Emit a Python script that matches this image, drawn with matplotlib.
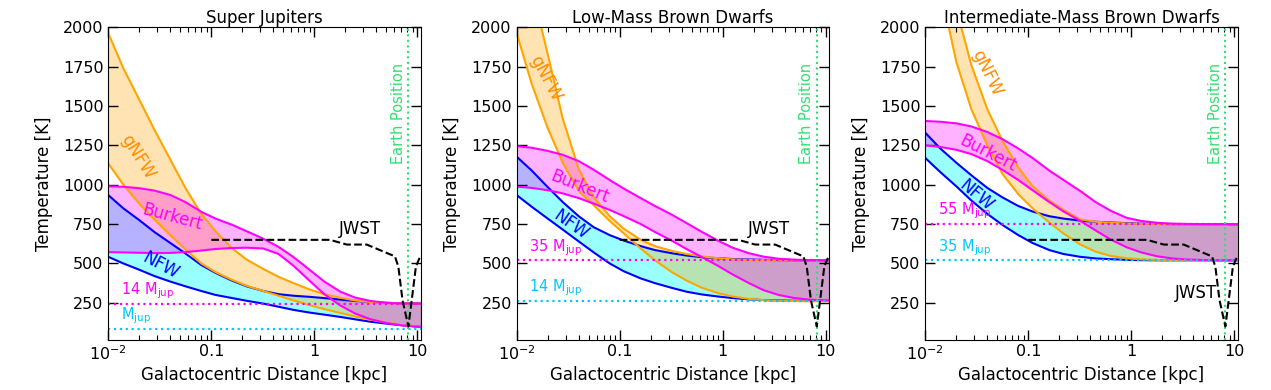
import numpy as np
import matplotlib
matplotlib.use("Agg")
import matplotlib.pyplot as plt

# ---------------- data ----------------
r_kpc = [0.01, 0.014, 0.02, 0.028, 0.04, 0.056, 0.08, 0.11, 0.16, 0.22, 0.32,
         0.45, 0.63, 0.9, 1.25, 1.8, 2.5, 3.5, 5, 7, 10.8]

# Super Jupiters
sj_nfw_hi = [934, 850, 775, 700, 630, 564, 490, 440, 390, 355, 325, 305, 295, 288, 280, 270, 262, 256, 250, 247, 245]
sj_nfw_lo = [542, 500, 460, 420, 385, 355, 325, 300, 280, 263, 245, 225, 205, 188, 175, 160, 145, 130, 118, 108, 98]
sj_gnfw_hi = [1962, 1740, 1540, 1350, 1160, 980, 815, 705, 595, 525, 465, 415, 375, 335, 305, 282, 265, 255, 248, 246, 245]
sj_gnfw_lo = [1135, 1000, 880, 780, 680, 590, 500, 445, 395, 358, 325, 295, 265, 235, 210, 185, 163, 143, 125, 110, 98]
sj_bur_hi = [990, 987, 978, 963, 935, 890, 828, 785, 745, 705, 657, 605, 540, 460, 385, 320, 283, 262, 250, 246, 245]
sj_bur_lo = [572, 570, 568, 566, 567, 572, 582, 592, 598, 600, 595, 560, 485, 390, 305, 232, 182, 146, 122, 107, 95]

# Low-Mass Brown Dwarfs
lm_nfw_hi = [1178, 1090, 985, 890, 800, 730, 680, 645, 610, 585, 565, 550, 540, 533, 528, 525, 523, 521, 520, 520, 520]
lm_nfw_lo = [934, 860, 785, 715, 640, 570, 500, 450, 405, 375, 345, 320, 303, 290, 280, 272, 267, 265, 263, 262, 262]
lm_gnfw_hi = [2700, 2250, 1830, 1420, 1100, 920, 800, 720, 650, 610, 580, 560, 545, 533, 526, 522, 521, 520, 520, 520, 520]
lm_gnfw_lo = [1962, 1640, 1360, 1140, 960, 870, 770, 690, 595, 520, 445, 390, 345, 312, 290, 275, 267, 263, 261, 260, 260]
lm_bur_hi = [1245, 1235, 1215, 1190, 1150, 1095, 1030, 975, 915, 865, 810, 755, 700, 645, 600, 565, 543, 530, 524, 521, 520]
lm_bur_lo = [988, 980, 965, 945, 915, 880, 840, 800, 750, 700, 645, 590, 540, 485, 430, 375, 330, 300, 280, 270, 265]

# Intermediate-Mass Brown Dwarfs
im_nfw_hi = [1330, 1230, 1140, 1060, 980, 920, 865, 830, 800, 785, 772, 765, 760, 756, 753, 751, 750, 750, 750, 750, 750]
im_nfw_lo = [1170, 1080, 990, 900, 815, 745, 680, 630, 585, 560, 542, 532, 527, 523, 521, 520, 520, 520, 520, 520, 520]
im_gnfw_hi = [3500, 2800, 2120, 1760, 1480, 1280, 1110, 990, 900, 840, 780, 765, 758, 754, 752, 751, 750, 750, 750, 750, 750]
im_gnfw_lo = [2900, 2250, 1780, 1480, 1250, 1070, 940, 850, 760, 690, 620, 575, 548, 533, 526, 522, 520, 520, 520, 520, 520]
im_bur_hi = [1405, 1400, 1390, 1370, 1335, 1290, 1230, 1170, 1090, 1030, 960, 890, 835, 790, 770, 758, 753, 751, 750, 750, 750]
im_bur_lo = [1250, 1240, 1222, 1195, 1150, 1095, 1030, 965, 890, 830, 770, 710, 652, 603, 570, 545, 532, 525, 522, 520, 520]

# JWST sensitivity
jwst_r = [0.1, 1.42, 2.07, 3.23, 6.07, 6.55, 7.2, 8.2, 8.83, 9.7, 10.8]
jwst_T = [650, 650, 620, 620, 545, 480, 265, 100, 265, 480, 553]

earth_r = 8.2

titles = ["Super Jupiters", "Low-Mass Brown Dwarfs", "Intermediate-Mass Brown Dwarfs"]
mass_hi_labels = ["14 M$_{\\mathrm{jup}}$", "35 M$_{\\mathrm{jup}}$", "55 M$_{\\mathrm{jup}}$"]
mass_lo_labels = ["M$_{\\mathrm{jup}}$", "14 M$_{\\mathrm{jup}}$", "35 M$_{\\mathrm{jup}}$"]
mass_hi_T = [244, 520, 750]
mass_lo_T = [83, 262, 520]

xtick_vals = [0.01, 0.1, 1, 10]
xtick_labels = ["$10^{-2}$", "0.1", "1", "10"]
ytick_vals = [250, 500, 750, 1000, 1250, 1500, 1750, 2000]

# label positions (x, y, rotation) per panel
gnfw_lab = [(0.0193, 1176, -58), (0.0192, 1676, -62), (0.0395, 1708, -64)]
bur_lab = [(0.0416, 796, -15), (0.0407, 987, -22), (0.041, 1199, -27)]
nfw_lab = [(0.032, 489, -28), (0.0337, 744, -35), (0.0315, 934, -40)]
jwst_lab = [(2.76, 716), (2.8, 716), (4.27, 310)]

panels = [
    (sj_nfw_hi, sj_nfw_lo, sj_gnfw_hi, sj_gnfw_lo, sj_bur_hi, sj_bur_lo),
    (lm_nfw_hi, lm_nfw_lo, lm_gnfw_hi, lm_gnfw_lo, lm_bur_hi, lm_bur_lo),
    (im_nfw_hi, im_nfw_lo, im_gnfw_hi, im_gnfw_lo, im_bur_hi, im_bur_lo),
]

# ---------------- figure ----------------
W, H = 1271, 390
fig = plt.figure(figsize=(W / 100, H / 100), dpi=100)
lefts = [108.3, 516.7, 925.3]
ax_w = 312.4
top_px, bot_px = 27.3, 339.5

green = "#2fe070"
cyan_line = "#00c8ff"

for i, (nh, nl, gh, gl, bh, bl) in enumerate(panels):
    ax = fig.add_axes([lefts[i] / W, 1 - bot_px / H, ax_w / W, (bot_px - top_px) / H])
    ax.set_xscale("log")
    ax.fill_between(r_kpc, nl, nh, color="cyan", alpha=0.4, lw=0)
    ax.fill_between(r_kpc, gl, gh, color="orange", alpha=0.3, lw=0)
    ax.fill_between(r_kpc, bl, bh, color="magenta", alpha=0.3, lw=0)
    for arr in (nh, nl):
        ax.plot(r_kpc, arr, color="blue", lw=1.5)
    for arr in (gh, gl):
        ax.plot(r_kpc, arr, color="orange", lw=1.5)
    for arr in (bh, bl):
        ax.plot(r_kpc, arr, color="magenta", lw=1.5)

    ax.axhline(mass_hi_T[i], color="magenta", ls=":", lw=1.6)
    ax.axhline(mass_lo_T[i], color=cyan_line, ls=":", lw=1.6)
    ax.axvline(earth_r, color=green, ls=":", lw=1.5)
    ax.plot(jwst_r, jwst_T, color="black", ls="--", lw=1.5)

    ax.annotate(mass_hi_labels[i], xy=(0.0132, mass_hi_T[i]), xytext=(0, 2),
                textcoords="offset points", color="magenta", fontsize=10.5,
                ha="left", va="bottom")
    ax.annotate(mass_lo_labels[i], xy=(0.0132, mass_lo_T[i]), xytext=(0, 2),
                textcoords="offset points", color=cyan_line, fontsize=10.5,
                ha="left", va="bottom")
    ax.annotate("Earth Position", xy=(earth_r, 1450), xytext=(-2, 0),
                textcoords="offset points", rotation=90, color=green,
                fontsize=10.5, ha="right", va="center")

    gx, gy, gr = gnfw_lab[i]
    ax.text(gx, gy, "gNFW", color="darkorange", fontsize=12, rotation=gr,
            ha="center", va="center", rotation_mode="anchor")
    bx, by, br = bur_lab[i]
    ax.text(bx, by, "Burkert", color="magenta", fontsize=12, rotation=br,
            ha="center", va="center", rotation_mode="anchor")
    nx, ny, nr = nfw_lab[i]
    ax.text(nx, ny, "NFW", color="blue", fontsize=12, rotation=nr,
            ha="center", va="center", rotation_mode="anchor")
    jx, jy = jwst_lab[i]
    ax.text(jx, jy, "JWST", color="black", fontsize=12, ha="center", va="center")

    ax.set_xlim(0.01, 10.8)
    ax.set_ylim(17, 2000)
    ax.set_xticks(xtick_vals)
    ax.set_xticklabels(xtick_labels)
    ax.set_yticks(ytick_vals)
    ax.tick_params(which="both", direction="in", top=True, right=True, labelsize=11.5)
    ax.tick_params(which="major", length=7, width=1)
    ax.tick_params(which="minor", length=3.5, width=0.8)
    ax.tick_params(axis="x", pad=3.5)
    ax.set_xlabel("Galactocentric Distance [kpc]", fontsize=12, labelpad=2)
    ax.set_ylabel("Temperature [K]", fontsize=12, labelpad=7)
    ax.set_title(titles[i], fontsize=12, pad=3)

fig.savefig("out.png", dpi=100)
